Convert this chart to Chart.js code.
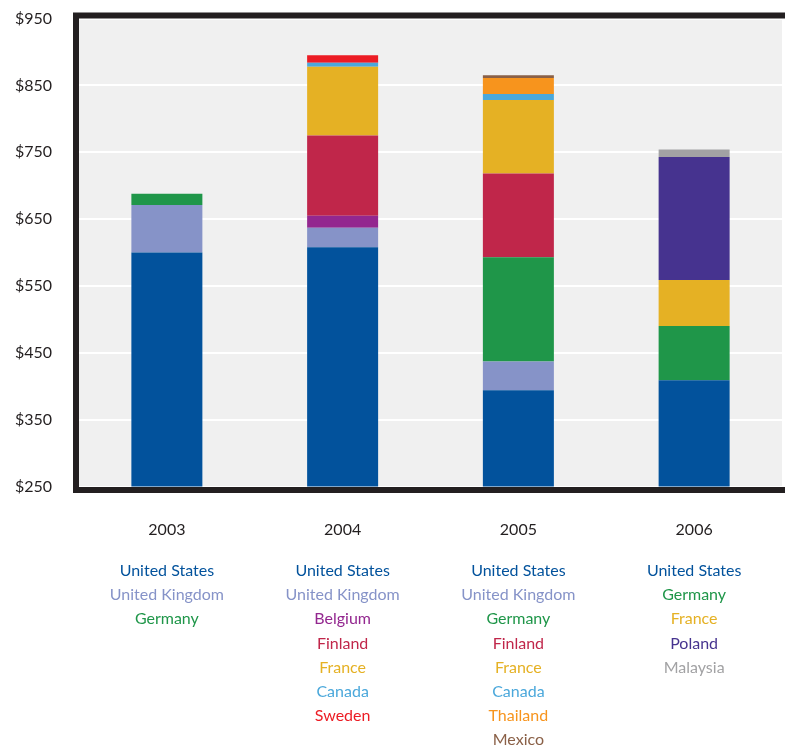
<!DOCTYPE html>
<html>
<head>
<meta charset="utf-8">
<style>
  html, body { margin: 0; padding: 0; background: #ffffff; }
  #chart { display: block; }
</style>
<script src="https://cdn.jsdelivr.net/npm/chart.js@4.4.1/dist/chart.umd.min.js"></script>
</head>
<body>
<canvas id="chart" width="785" height="746"></canvas>
<script>
// Years on the category axis
const years = ['2003', '2004', '2005', '2006'];

// Value axis ticks ($)
const yMin = 250;
const yMax = 950;
const yStep = 100;

// Segment values per country, stacked bottom to top (null = not present that year)
const unitedStates  = [600, 608, 394, 409];
const unitedKingdom = [71, 29, 43, null];
const germany       = [17, null, 156, 81];
const belgium       = [null, 18, null, null];
const finland       = [null, 120, 125, null];
const france        = [null, 103, 110, 69];
const poland        = [null, null, null, 184];
const canada        = [null, 6, 9, null];
const sweden        = [null, 11, null, null];
const thailand      = [null, null, 24, null];
const mexico        = [null, null, 4, null];
const malaysia      = [null, null, null, 11];

const countryNames = ['United States', 'United Kingdom', 'Germany', 'Belgium', 'Finland',
  'France', 'Poland', 'Canada', 'Sweden', 'Thailand', 'Mexico', 'Malaysia'];
const countryValues = [unitedStates, unitedKingdom, germany, belgium, finland,
  france, poland, canada, sweden, thailand, mexico, malaysia];
const countryColors = ['#02529c', '#8693c8', '#1f9649', '#93278f', '#c0264a',
  '#e5b124', '#46338f', '#4ba8db', '#ec1c24', '#f7941d', '#8a6047', '#a2a2a4'];

const FONT = 'Lato, "Open Sans", sans-serif';
const TEXT_DARK = '#231f20';

const datasets = countryNames.map((name, i) => ({
  label: name,
  data: countryValues[i],
  backgroundColor: countryColors[i],
  borderWidth: 0,
  categoryPercentage: 1.0,
  barPercentage: 0.404,
  stack: 'total'
}));

// Grey plot background
const plotBackground = {
  id: 'plotBackground',
  beforeDraw(chart) {
    const { ctx, chartArea: a } = chart;
    ctx.save();
    ctx.fillStyle = '#f0f0f0';
    ctx.fillRect(a.left, a.top, a.right - a.left, a.bottom - a.top);
    ctx.restore();
  }
};

// Heavy dark frame round the plot, plus the per-year country lists under the axis
const frameAndLists = {
  id: 'frameAndLists',
  afterDraw(chart) {
    const { ctx, chartArea: a } = chart;
    ctx.save();
    ctx.strokeStyle = TEXT_DARK;
    ctx.lineWidth = 6;
    ctx.strokeRect(a.left - 3, a.top - 3, (a.right + 6) - (a.left - 3), (a.bottom + 3.5) - (a.top - 3));

    const xScale = chart.scales.x;
    ctx.font = '16px ' + FONT;
    ctx.textAlign = 'center';
    ctx.textBaseline = 'alphabetic';
    years.forEach((yr, i) => {
      const x = xScale.getPixelForValue(i);
      let line = 0;
      countryNames.forEach((name, s) => {
        const v = countryValues[s][i];
        if (v === null || v === undefined) return;
        ctx.fillStyle = countryColors[s];
        ctx.fillText(name, x, a.bottom + 89.5 + line * 24.2);
        line++;
      });
    });
    ctx.restore();
  }
};

new Chart(document.getElementById('chart'), {
  type: 'bar',
  data: { labels: years, datasets },
  options: {
    responsive: false,
    animation: false,
    layout: { padding: { left: 0, top: 18.5, right: 3, bottom: 0 } },
    plugins: {
      legend: { display: false },
      tooltip: { enabled: false }
    },
    scales: {
      x: {
        stacked: true,
        grid: { display: false },
        border: { display: false },
        ticks: {
          color: TEXT_DARK,
          font: { family: FONT, size: 16 },
          padding: 26
        },
        afterFit(scale) { scale.height = 259.5; }
      },
      y: {
        stacked: true,
        min: yMin,
        max: yMax,
        grid: { color: '#ffffff', lineWidth: 2, drawTicks: false },
        border: { display: false },
        ticks: {
          stepSize: yStep,
          color: TEXT_DARK,
          font: { family: FONT, size: 16 },
          padding: 27,
          callback: (v) => '$' + v
        },
        afterFit(scale) {
          scale.width = 79;
          scale.paddingTop = 0;
          scale.paddingBottom = 0;
        }
      }
    }
  },
  plugins: [plotBackground, frameAndLists]
});
</script>
</body>
</html>
